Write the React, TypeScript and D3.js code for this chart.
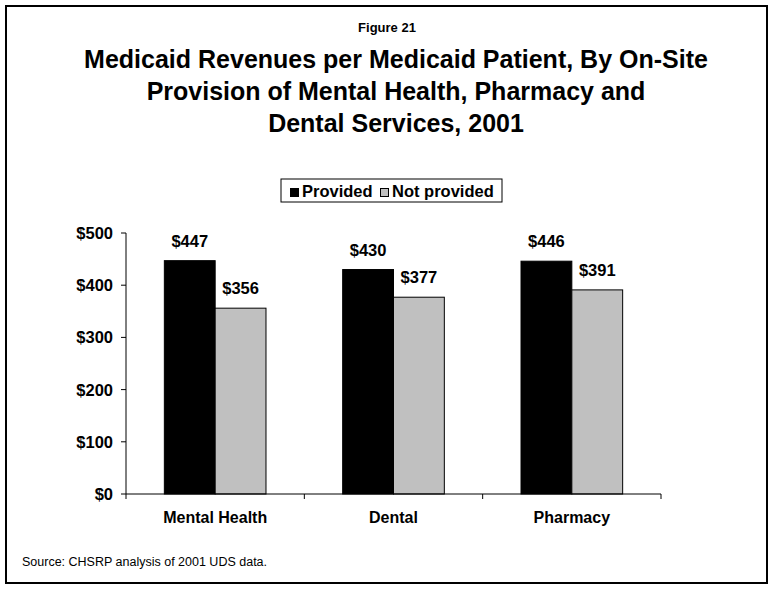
import React from "react";
import * as d3 from "d3";

const categories = ["Mental Health", "Dental", "Pharmacy"];
const seriesNames = ["Provided", "Not provided"];
const provided = [447, 430, 446];
const notProvided = [356, 377, 391];
const yTicks = [0, 100, 200, 300, 400, 500];
const titleLines = [
  "Medicaid Revenues per Medicaid Patient, By On-Site",
  "Provision of Mental Health, Pharmacy and",
  "Dental Services, 2001",
];
const figureLabel = "Figure 21";
const sourceText = "Source: CHSRP analysis of 2001 UDS data.";

const W = 775;
const H = 592;
const FONT = "'Liberation Sans', Arial, Helvetica, sans-serif";
const colors = ["#000000", "#c0c0c0"];

export default function App() {
  const plotLeft = 126;
  const plotRight = 661;
  const plotTop = 233;
  const plotBottom = 494;

  const x0 = d3.scaleBand<string>().domain(categories).range([plotLeft, plotRight]).paddingInner(0).paddingOuter(0);
  const groupPad = 0.215;
  const x1 = d3
    .scaleBand<string>()
    .domain(seriesNames)
    .range([x0.bandwidth() * groupPad, x0.bandwidth() * (1 - groupPad)])
    .padding(0);
  const y = d3.scaleLinear().domain([0, 500]).range([plotBottom, plotTop]);

  const series = [provided, notProvided];
  const boundaries = [plotLeft, ...categories.map((c) => (x0(c) as number) + x0.bandwidth())];

  return (
    <svg width={W} height={H} style={{ position: "absolute", left: 0, top: 0 }} fontFamily={FONT}>
      <rect x={0} y={0} width={W} height={H} fill="#fff" />
      <rect x={6} y={6} width={761} height={577} fill="none" stroke="#000" strokeWidth={2} />

      <text x={387} y={32} textAnchor="middle" fontSize={13} fontWeight="bold">
        {figureLabel}
      </text>
      {titleLines.map((t, i) => (
        <text key={t} x={396} y={67.5 + i * 32} textAnchor="middle" fontSize={25} fontWeight="bold">
          {t}
        </text>
      ))}

      {/* legend */}
      <g>
        <rect x={281} y={179} width={221} height={23} fill="#fff" stroke="#000" strokeWidth={1} />
        {seriesNames.map((s, i) => {
          const lx = i === 0 ? 290 : 380;
          return (
            <g key={s}>
              <rect x={lx + 0.5} y={188.5} width={8} height={8} fill={colors[i]} stroke="#000" strokeWidth={1} />
              <text x={lx + 12} y={197} fontSize={16.5} fontWeight="bold">
                {s}
              </text>
            </g>
          );
        })}
      </g>

      {/* bars */}
      {categories.map((c, ci) => (
        <g key={c} transform={`translate(${x0(c)},0)`}>
          {seriesNames.map((s, si) => {
            const v = series[si][ci];
            const bx = x1(s) as number;
            return (
              <g key={s}>
                <rect
                  x={bx}
                  y={y(v)}
                  width={x1.bandwidth()}
                  height={plotBottom - y(v)}
                  fill={colors[si]}
                  stroke="#000"
                  strokeWidth={1}
                />
                <text
                  x={bx + x1.bandwidth() / 2}
                  y={y(v) - 14}
                  textAnchor="middle"
                  fontSize={16.5}
                  fontWeight="bold"
                >
                  {"$" + v}
                </text>
              </g>
            );
          })}
          <text x={x0.bandwidth() / 2} y={523} textAnchor="middle" fontSize={16} fontWeight="bold">
            {c}
          </text>
        </g>
      ))}

      {/* y axis */}
      <line x1={plotLeft} x2={plotLeft} y1={plotTop} y2={plotBottom} stroke="#000" strokeWidth={1} />
      {yTicks.map((t) => (
        <g key={t}>
          <line x1={plotLeft - 5} x2={plotLeft} y1={y(t)} y2={y(t)} stroke="#000" strokeWidth={1} />
          <text x={113} y={y(t) + 6} textAnchor="end" fontSize={16.5} fontWeight="bold">
            {"$" + t}
          </text>
        </g>
      ))}

      {/* x axis */}
      <line x1={plotLeft} x2={plotRight} y1={plotBottom} y2={plotBottom} stroke="#000" strokeWidth={1} />
      {boundaries.map((bx, i) => (
        <line key={i} x1={bx} x2={bx} y1={plotBottom} y2={plotBottom + 5} stroke="#000" strokeWidth={1} />
      ))}

      <text x={22} y={566} fontSize={12.5}>
        {sourceText}
      </text>
    </svg>
  );
}
